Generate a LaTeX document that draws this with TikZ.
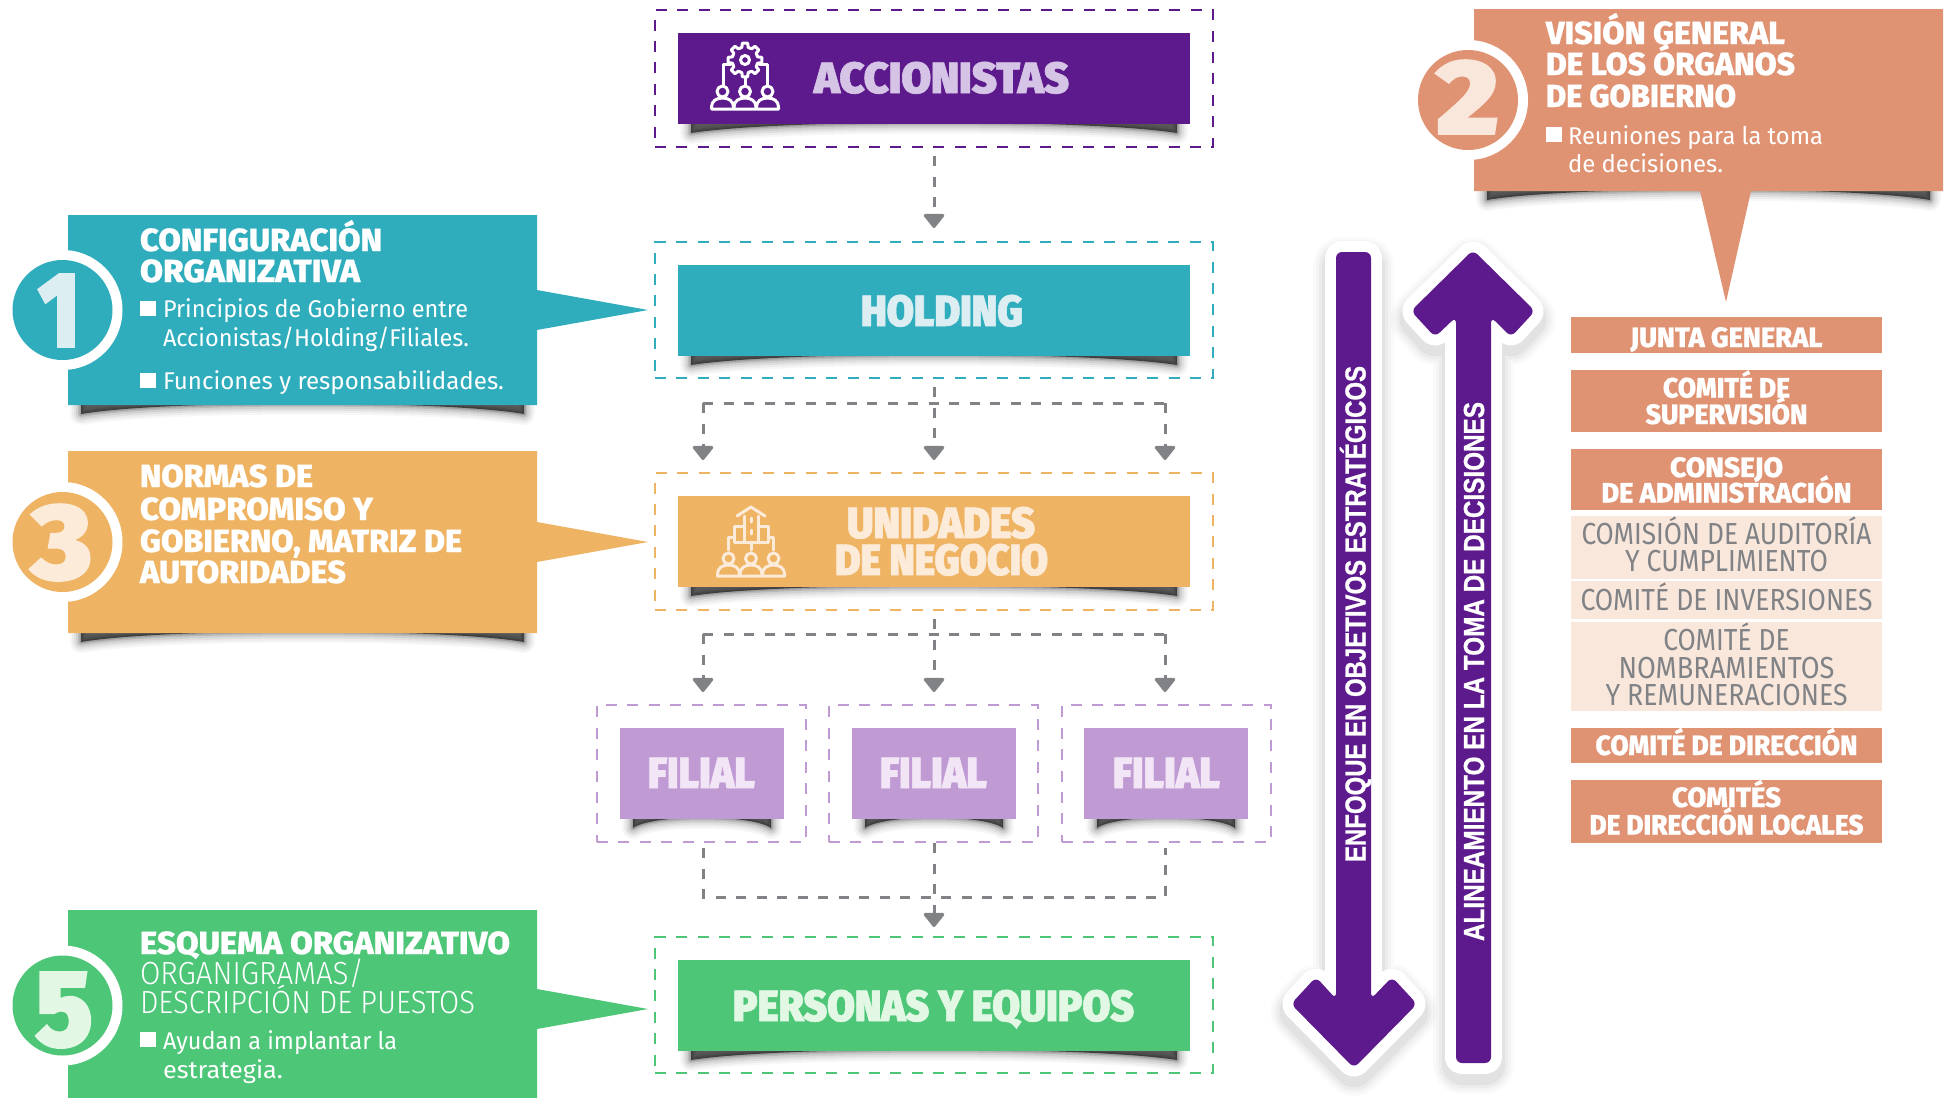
\documentclass[tikz,border=0pt]{standalone}
\usepackage{fontspec}
\usepackage{graphicx}
\usetikzlibrary{arrows.meta}
\newfontfamily\ttlf[FakeBold=0.6]{Fira Sans ExtraBold}
\newfontfamily\hvyf[FakeBold=1.4]{Fira Sans Black}
\newfontfamily\regf{Fira Sans}
\newfontfamily\lgtf{Fira Sans Light}
\newfontfamily\rotf[FakeBold=0.8]{Liberation Sans Bold}
\newcommand\ttlA{\ttlf\fontsize{16pt}{16pt}\selectfont}
\newcommand\ttlB{\ttlf\fontsize{14pt}{14pt}\selectfont}
\newcommand\hvyA{\hvyf\fontsize{21.8pt}{22pt}\selectfont}
\newcommand\bodyA{\regf\fontsize{12.1pt}{13pt}\selectfont}
\newcommand\lgtA{\lgtf\fontsize{16pt}{16pt}\selectfont}
\newcommand\gryA{\regf\fontsize{15.2pt}{16pt}\selectfont}
\newcommand\rotA{\rotf\fontsize{14.5pt}{15pt}\selectfont}
\definecolor{cpur}{HTML}{5D1A8C}
\definecolor{cteal}{HTML}{2FADBD}
\definecolor{cora}{HTML}{EFB364}
\definecolor{csal}{HTML}{E09373}
\definecolor{clav}{HTML}{C09AD3}
\definecolor{cgrn}{HTML}{4DC677}
\definecolor{cpale}{HTML}{F9E7DC}
\definecolor{cgry}{HTML}{808285}
\definecolor{tpur}{HTML}{D5C4E6}
\definecolor{tteal}{HTML}{DDEEF3}
\definecolor{tora}{HTML}{FCEBD8}
\definecolor{tlav}{HTML}{F2E6F6}
\definecolor{tgrn}{HTML}{E2F8E5}
\definecolor{tsal}{HTML}{F9E7DC}
\tikzset{
  solidbox/.style={fill=#1,draw=none},
  dashbox/.style={draw=#1,line width=1.4pt,dash pattern=on 5.5pt off 5.2pt,fill=none},
  conn/.style={draw=cgry,line width=1.5pt,dash pattern=on 5pt off 5.25pt},
  connarrow/.style={conn,-{Triangle[width=11.5pt,length=7.5pt,round]}},
  icn/.style={draw=white,line width=1.5pt,line join=round,line cap=round},
  icno/.style={draw=tora,line width=1.5pt,line join=round,line cap=round},
  bigarrow/.style={fill=cpur,rounded corners=3pt}
}
% name, x1,y1,x2,y2, style
\newcommand\bx[6]{%
  \pgfmathsetmacro\bw{(#4-#2)*0.5}\pgfmathsetmacro\bh{(#5-#3)*0.5}%
  \node[#6,inner sep=0pt,outer sep=0pt,minimum width=\bw pt,minimum height=\bh pt] (#1) at ({(#2+#4)/2},{(#3+#5)/2}) {};}
% name,x,y,anchor,width px,font,colour,text
\newcommand\tx[8]{\node[inner sep=0pt,outer sep=0pt,anchor=#4,text=#7] (#1) at (#2,#3) {\resizebox{0.5\dimexpr#5pt\relax}{\height}{#6{}#8}};}
% name,x,y,width,height,colour,digit
\newcommand\dig[7]{\node[inner sep=0pt,outer sep=0pt,anchor=base west,text=#6] (#1) at (#2,#3) {\resizebox{0.5\dimexpr#4pt\relax}{0.5\dimexpr#5pt\relax}{\hvyf{}#7}};}
% soft curled shadow: x1,x2,y bottom
\newcommand\shad[3]{%
  \pgfmathsetmacro\sa{#1+13}\pgfmathsetmacro\sb{#2-13}%
  \pgfmathsetmacro\sc{#1+0.2*(#2-#1)}\pgfmathsetmacro\sd{#2-0.2*(#2-#1)}%
  \foreach \w/\o in {22/.03,18/.04,14/.05,10/.07,6/.10,3/.14}{%
    \draw[black,opacity=\o,line width=\w*0.5pt,line join=round] (\sa,#3-5) -- (\sb,#3-5) -- (\sb,#3+9)
      .. controls (\sd,#3-5) and (\sc,#3-5) .. (\sa,#3+9) -- cycle;}%
  \fill[black,opacity=.6] (\sa,#3-5) -- (\sb,#3-5) -- (\sb,#3+9)
      .. controls (\sd,#3-5) and (\sc,#3-5) .. (\sa,#3+9) -- cycle;%
}
% numbered ring: cx,cy,colour
\newcommand\ring[3]{\fill[white] (#1,#2) circle (60);\fill[#3] (#1,#2) circle (50);}
\newcommand\bul[3]{\fill[white] (#1,#2) rectangle ++(15.5,#3);}
% three people: icon style, x of the middle one, base y
\newcommand\people[3]{%
  \foreach \c in {-22.5,0,22.5}{%
    \draw[#1] (#2+\c,#3-17.5) circle (5.5);
    \draw[#1] (#2+\c-11,#3) -- (#2+\c-11,#3-2) .. controls (#2+\c-11,#3-8) and (#2+\c-6,#3-11) .. (#2+\c,#3-11)
      .. controls (#2+\c+6,#3-11) and (#2+\c+11,#3-8) .. (#2+\c+11,#3-2) -- (#2+\c+11,#3) -- cycle;}}
\newcommand\dnpath{(1336,252) -- (1371,252) -- (1371,999) -- (1392,977) -- (1417,1004) -- (1354,1068) -- (1291,1004) -- (1316,977) -- (1336,999) -- cycle}
\newcommand\uppath{(1473,250) -- (1535,311) -- (1511,337) -- (1491,317) -- (1491,1063) -- (1456,1063) -- (1456,317) -- (1435,337) -- (1411,311) -- cycle}
\begin{document}
\begin{tikzpicture}[x=0.5pt,y=-0.5pt]
\useasboundingbox (0,0) rectangle (1950,1098);
\fill[white] (0,0) rectangle (1950,1098);

% ---------- left callouts
\shad{68}{537}{405}
\fill[cteal] (68,215) -- (537,215) -- (537,290) -- (648,310) -- (537,330) -- (537,405) -- (68,405) -- cycle;
\ring{62.5}{310}{cteal}
\dig{n1}{38}{347}{42}{73}{tteal}{1}
\tx{t1a}{140}{251}{base west}{242}{\ttlA}{white}{CONFIGURACIÓN}
\tx{t1b}{140}{282}{base west}{220}{\ttlA}{white}{ORGANIZATIVA}
\bul{140}{301}{14.5}
\tx{t1c}{163}{317}{base west}{305}{\bodyA}{white}{Principios de Gobierno entre}
\tx{t1d}{163}{346}{base west}{306}{\bodyA}{white}{Accionistas/Holding/Filiales.}
\bul{140}{373}{14.5}
\tx{t1e}{163}{389}{base west}{341}{\bodyA}{white}{Funciones y responsabilidades.}

\shad{68}{537}{633}
\fill[cora] (68,451) -- (537,451) -- (537,522) -- (648,542) -- (537,562) -- (537,633) -- (68,633) -- cycle;
\ring{62.5}{542}{cora}
\dig{n3}{31}{579}{61}{75}{tora}{3}
\tx{t3a}{140}{487}{base west}{173}{\ttlA}{white}{NORMAS DE}
\tx{t3b}{140}{520}{base west}{233}{\ttlA}{white}{COMPROMISO Y}
\tx{t3c}{140}{552}{base west}{322}{\ttlA}{white}{GOBIERNO, MATRIZ DE}
\tx{t3d}{140}{583}{base west}{206}{\ttlA}{white}{AUTORIDADES}

\fill[cgrn] (68,910) -- (537,910) -- (537,989) -- (648,1009) -- (537,1029) -- (537,1098) -- (68,1098) -- cycle;
\ring{62.5}{1005.5}{cgrn}
\dig{n5}{35}{1046}{58}{74}{tgrn}{5}
\tx{t5a}{140}{954}{base west}{370}{\ttlA}{white}{ESQUEMA ORGANIZATIVO}
\tx{t5b}{140}{984}{base west}{224}{\lgtA}{white}{ORGANIGRAMAS/}
\tx{t5c}{140}{1013}{base west}{335}{\lgtA}{white}{DESCRIPCIÓN DE PUESTOS}
\bul{140}{1032}{14.5}
\tx{t5d}{163}{1049}{base west}{234}{\bodyA}{white}{Ayudan a implantar la}
\tx{t5e}{163}{1078}{base west}{120}{\bodyA}{white}{estrategia.}

% ---------- central column
\bx{accD}{655}{10}{1213}{147}{dashbox=cpur}
\shad{678}{1190}{124}
\bx{acc}{678}{33}{1190}{124}{solidbox=cpur}
\tx{accT}{814}{93}{base west}{255}{\hvyA}{tpur}{ACCIONISTAS}
\draw[icn,shift={(745,60)}] (-14:13) \foreach \a in {0,45,...,315}{ -- (\a-14:13) -- (\a-9:17) -- (\a+9:17) -- (\a+14:13)} -- cycle;
\draw[icn] (745,60) circle (4.5);
\draw[icn] (731,64) -- (723,64) -- (723,85);
\draw[icn] (759,64) -- (767,64) -- (767,85);
\draw[icn] (745,77) -- (745,85);
\people{icn}{745}{109}

\bx{holD}{655}{242}{1213}{378}{dashbox=cteal}
\shad{678}{1190}{356}
\bx{hol}{678}{265}{1190}{356}{solidbox=cteal}
\tx{holT}{861}{326}{base west}{162}{\hvyA}{tteal}{HOLDING}

\bx{uniD}{655}{473}{1213}{610}{dashbox=cora}
\shad{678}{1190}{587}
\bx{uni}{678}{496}{1190}{587}{solidbox=cora}
\tx{uniT}{847}{538}{base west}{188}{\hvyA}{tora}{UNIDADES}
\tx{uniU}{835}{575}{base west}{213}{\hvyA}{tora}{DE NEGOCIO}
\draw[icno] (737,516) -- (751,507) -- (765,516);
\draw[icno] (744,516) -- (744,542) (758,516) -- (758,542);
\draw[icno] (744,526) -- (734,526) -- (734,542) -- (768,542) -- (768,526) -- (758,526);
\draw[icno] (751,518) -- (751,522) (751,530) -- (751,534);
\draw[icno] (734,537) -- (728,537) -- (728,550) (768,537) -- (773,537) -- (773,550) (751,542) -- (751,550);
\people{icno}{751}{576}

\bx{f1D}{597}{705}{806}{842}{dashbox=clav}
\bx{f2D}{829}{705}{1038}{842}{dashbox=clav}
\bx{f3D}{1062}{705}{1271}{842}{dashbox=clav}
\shad{620}{784}{819}\shad{852}{1016}{819}\shad{1084}{1248}{819}
\bx{f1}{620}{728}{784}{819}{solidbox=clav}
\bx{f2}{852}{728}{1016}{819}{solidbox=clav}
\bx{f3}{1084}{728}{1248}{819}{solidbox=clav}
\tx{f1T}{648}{788}{base west}{107}{\hvyA}{tlav}{FILIAL}
\tx{f2T}{880}{788}{base west}{107}{\hvyA}{tlav}{FILIAL}
\tx{f3T}{1113}{788}{base west}{107}{\hvyA}{tlav}{FILIAL}

\bx{perD}{655}{937}{1213}{1073}{dashbox=cgrn}
\shad{678}{1190}{1051}
\bx{per}{678}{960}{1190}{1051}{solidbox=cgrn}
\tx{perT}{733}{1021}{base west}{401}{\hvyA}{tgrn}{PERSONAS Y EQUIPOS}

% ---------- connectors
\coordinate (a0) at (934,156);\coordinate (a1) at (934,228);
\draw[connarrow] (a0) -- (a1);
\coordinate (b0) at (934,387);\coordinate (b1) at (934,460);
\coordinate (bL) at (703,403);\coordinate (bR) at (1165,403);
\coordinate (bLe) at (703,460);\coordinate (bRe) at (1165,460);
\draw[connarrow] (b0) -- (b1);
\draw[conn] (bL) -- (bR);
\draw[connarrow] (bL) -- (bLe);
\draw[connarrow] (bR) -- (bRe);
\coordinate (c0) at (934,619);\coordinate (c1) at (934,692);
\coordinate (cL) at (703,634);\coordinate (cR) at (1165,634);
\coordinate (cLe) at (703,692);\coordinate (cRe) at (1165,692);
\draw[connarrow] (c0) -- (c1);
\draw[conn] (cL) -- (cR);
\draw[connarrow] (cL) -- (cLe);
\draw[connarrow] (cR) -- (cRe);
\coordinate (d0) at (703,848);\coordinate (d1) at (934,843);\coordinate (d2) at (1165,848);
\coordinate (dL) at (703,897);\coordinate (dR) at (1165,897);\coordinate (dE) at (934,927);
\draw[conn] (d0) -- (dL) -- (dR) -- (d2);
\draw[connarrow] (d1) -- (dE);

% ---------- big arrows
\foreach \w/\o in {46/.02,40/.025,34/.03,28/.04}{
  \draw[black,opacity=\o,line width=\w*0.5pt,line join=round,rounded corners=3pt,shift={(0,8)}] \dnpath;
  \draw[black,opacity=\o,line width=\w*0.5pt,line join=round,rounded corners=3pt,shift={(0,8)}] \uppath;}
\draw[white,line width=11pt,line join=round,rounded corners=3pt] \dnpath;
\draw[white,line width=11pt,line join=round,rounded corners=3pt] \uppath;
\fill[bigarrow] \dnpath;
\fill[bigarrow] \uppath;
\node[inner sep=0pt,outer sep=0pt,anchor=base west,rotate=90,text=white] (rot1) at (1365.5,862) {\resizebox{248pt}{\height}{\rotA ENFOQUE EN OBJETIVOS ESTRATÉGICOS}};
\node[inner sep=0pt,outer sep=0pt,anchor=base west,rotate=90,text=white] (rot2) at (1484,941) {\resizebox{269.5pt}{\height}{\rotA ALINEAMIENTO EN LA TOMA DE DECISIONES}};

% ---------- right callout
\shad{1474}{1943}{191}
\fill[csal] (1474,9) -- (1943,9) -- (1943,191) -- (1751,191) -- (1726,302) -- (1700,191) -- (1474,191) -- cycle;
\ring{1468}{100}{csal}
\dig{n2}{1436}{134}{63}{74}{tsal}{2}
\tx{t2a}{1546}{44}{base west}{239}{\ttlA}{white}{VISIÓN GENERAL}
\tx{t2b}{1546}{75}{base west}{249}{\ttlA}{white}{DE LOS ÓRGANOS}
\tx{t2c}{1546}{107}{base west}{190}{\ttlA}{white}{DE GOBIERNO}
\bul{1546}{127}{15}
\tx{t2d}{1568}{144}{base west}{255}{\bodyA}{white}{Reuniones para la toma}
\tx{t2e}{1568}{172}{base west}{155}{\bodyA}{white}{de decisiones.}

% ---------- stack
\bx{s1}{1571}{317}{1882}{353}{solidbox=csal}
\tx{s1a}{1726.5}{347}{base}{192}{\ttlB}{white}{JUNTA GENERAL}
\bx{s2}{1571}{370}{1882}{432}{solidbox=csal}
\tx{s2a}{1726.5}{397.5}{base}{127}{\ttlB}{white}{COMITÉ DE}
\tx{s2b}{1726.5}{424}{base}{162}{\ttlB}{white}{SUPERVISIÓN}
\bx{s3}{1571}{449}{1882}{510}{solidbox=csal}
\tx{s3a}{1726.5}{477}{base}{113}{\ttlB}{white}{CONSEJO}
\tx{s3b}{1726.5}{502.5}{base}{250}{\ttlB}{white}{DE ADMINISTRACIÓN}
\bx{s4}{1571}{516}{1882}{579}{solidbox=cpale}
\tx{s4a}{1726.5}{544}{base}{290}{\gryA}{cgry}{COMISIÓN DE AUDITORÍA}
\tx{s4b}{1726.5}{571}{base}{203}{\gryA}{cgry}{Y CUMPLIMIENTO}
\bx{s5}{1571}{581}{1882}{619}{solidbox=cpale}
\tx{s5a}{1726.5}{610.5}{base}{292}{\gryA}{cgry}{COMITÉ DE INVERSIONES}
\bx{s6}{1571}{622}{1882}{710.5}{solidbox=cpale}
\tx{s6a}{1726.5}{650.5}{base}{126.5}{\gryA}{cgry}{COMITÉ DE}
\tx{s6b}{1726.5}{678}{base}{216}{\gryA}{cgry}{NOMBRAMIENTOS}
\tx{s6c}{1726.5}{705}{base}{242}{\gryA}{cgry}{Y REMUNERACIONES}
\bx{s7}{1571}{728}{1882}{763}{solidbox=csal}
\tx{s7a}{1726.5}{755}{base}{262}{\ttlB}{white}{COMITÉ DE DIRECCIÓN}
\bx{s8}{1571}{779.5}{1882}{842.5}{solidbox=csal}
\tx{s8a}{1726.5}{807}{base}{109}{\ttlB}{white}{COMITÉS}
\tx{s8b}{1726.5}{834.5}{base}{274}{\ttlB}{white}{DE DIRECCIÓN LOCALES}
\end{tikzpicture}
\end{document}
